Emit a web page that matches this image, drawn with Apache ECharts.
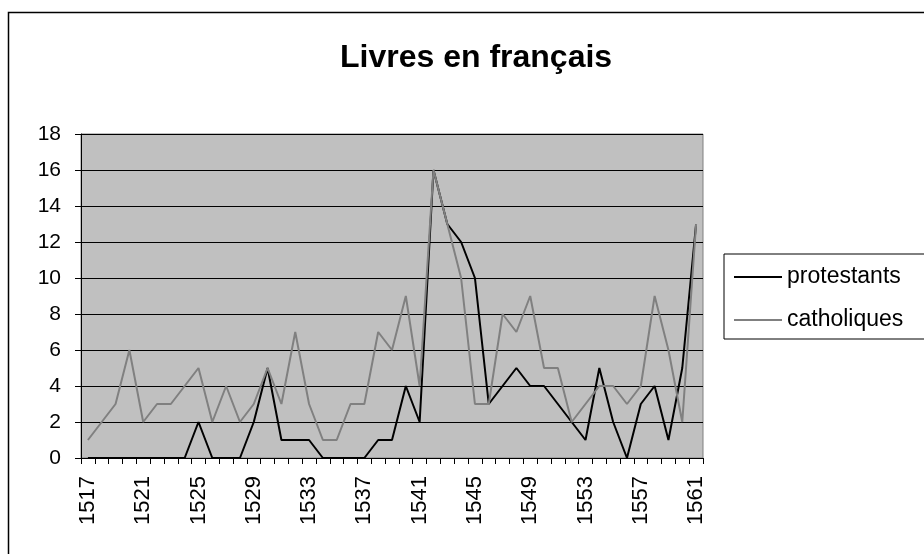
<!DOCTYPE html>
<html>
<head>
<meta charset="utf-8">
<script src="https://cdn.jsdelivr.net/npm/echarts@6/dist/echarts.min.js"></script>
<style>html,body{margin:0;padding:0;background:#fff}#c{width:924px;height:554px}</style>
</head>
<body>
<div id="c"></div>
<script>
const years = [];
for (let y = 1517; y <= 1561; y++) years.push(String(y));
const protestants = [0,0,0,0,0,0,0,0,2,0,0,0,2,5,1,1,1,0,0,0,0,1,1,4,2,16,13,12,10,3,4,5,4,4,3,2,1,5,2,0,3,4,1,5,13];
const catholiques = [1,2,3,6,2,3,3,4,5,2,4,2,3,5,3,7,3,1,1,3,3,7,6,9,4,16,13,10,3,3,8,7,9,5,5,2,3,4,4,3,4,9,6,2,13];
const titleText = 'Livres en français';
const seriesNames = ['protestants', 'catholiques'];

const chart = echarts.init(document.getElementById('c'), null, {renderer: 'canvas'});
const font = 'Liberation Sans, Arial, sans-serif';
chart.setOption({
  animation: false,
  backgroundColor: '#ffffff',
  textStyle: {fontFamily: font},
  graphic: [{
    type: 'rect', silent: true, z: -1,
    shape: {x: 8.5, y: 12.5, width: 1000, height: 1000},
    style: {fill: 'none', stroke: '#000', lineWidth: 1.5}
  }],
  title: {
    text: titleText, left: 335, top: 37,
    textStyle: {fontFamily: font, fontSize: 32, fontWeight: 'bold', color: '#000'}
  },
  legend: {
    orient: 'vertical', left: 724, top: 254,
    padding: [11, 60, 7, 10], itemGap: 19,
    borderColor: '#000', borderWidth: 1,
    itemWidth: 48, itemHeight: 2,
    icon: 'rect',
    textStyle: {fontFamily: font, fontSize: 23, color: '#000', lineHeight: 24},
    data: seriesNames
  },
  grid: {
    left: 81, right: 221, top: 134, bottom: 96,
    show: true, backgroundColor: '#c0c0c0', borderColor: '#808080', borderWidth: 1
  },
  xAxis: {
    type: 'category', data: years, boundaryGap: true,
    axisLine: {show: true, lineStyle: {color: '#000', width: 1}},
    axisTick: {show: true, interval: 0, length: 6, lineStyle: {color: '#000'}},
    axisLabel: {interval: 3, rotate: 90, margin: 18, fontSize: 22, color: '#000', fontFamily: font},
    splitLine: {show: false}
  },
  yAxis: {
    type: 'value', min: 0, max: 18, interval: 2,
    axisLine: {show: true, lineStyle: {color: '#000', width: 1}},
    axisTick: {show: true, length: 6, lineStyle: {color: '#000'}},
    axisLabel: {margin: 20, fontSize: 21, color: '#000', fontFamily: font},
    splitLine: {show: true, lineStyle: {color: '#000', width: 1}}
  },
  series: [
    {name: seriesNames[0], type: 'line', data: protestants, symbol: 'none',
     lineStyle: {color: '#000', width: 2}, itemStyle: {color: '#000'}},
    {name: seriesNames[1], type: 'line', data: catholiques, symbol: 'none',
     lineStyle: {color: '#808080', width: 2}, itemStyle: {color: '#808080'}}
  ]
});
</script>
</body>
</html>
